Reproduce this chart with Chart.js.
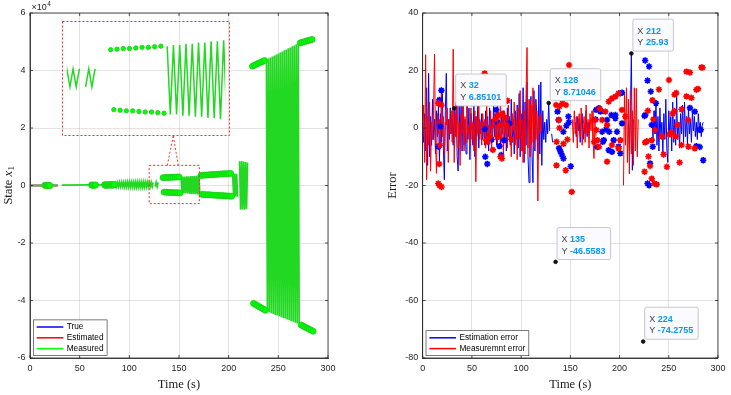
<!DOCTYPE html>
<html>
<head>
<meta charset="utf-8">
<title>State and error</title>
<script src="https://cdn.jsdelivr.net/npm/chart.js@4.4.1/dist/chart.umd.min.js"></script>
<style>
  body { margin: 0; background: #fff; }
  #page { position: relative; width: 731px; height: 395px; overflow: hidden; }
  canvas { position: absolute; }
  #stateChart { left: 0; top: 0; }
  #errorChart { left: 365px; top: 0; }
  #zoomChart { left: 62px; top: 21px; }
</style>
</head>
<body>
<div id="page">
  <canvas id="stateChart" width="365" height="395"></canvas>
  <canvas id="errorChart" width="366" height="395"></canvas>
  <canvas id="zoomChart" width="168" height="115"></canvas>
</div>
<script>
// ---- axis ticks ----
var timeTicks = [0, 50, 100, 150, 200, 250, 300];
var stateTicks = [-6, -4, -2, 0, 2, 4, 6];          // x 10^4
var errorTicks = [-80, -60, -40, -20, 0, 20, 40];

// ---- left plot: state x1, values in units of 10^4 ----
var trueT = [0, 28];
var trueX = [0, 0];
var estT = [0, 28];
var estX = [0, 0];

// measured, flat part near zero (null = gap in the line)
var flatT = [0, 28, 30, 32, 85];
var flatX = [0, 0.005, null, 0.01, 0.03];

// measured, drawn as line; one sample per second from the start time in the name
var zig86 = [0.10, -0.04, 0.10, -0.04, 0.11, -0.04, 0.11, -0.04, 0.11, -0.05,
    0.11, -0.05, 0.12, -0.05, 0.12, -0.05, 0.12, -0.05, 0.12, -0.06,
    0.12, -0.06, 0.12, -0.06, 0.12, -0.06, 0.12, -0.06, 0.12, -0.06,
    0.12, -0.05, 0.12, -0.05, 0.11, -0.04, 0.11, -0.04, 0.11];
var zig126 = [-0.04, 0.11, -0.04, 0.11];
var zig152 = [0.30, -0.27, 0.31, -0.27, 0.31, -0.28, 0.32, -0.28, 0.32, -0.29,
    0.33, -0.29, 0.33, -0.30, 0.34, -0.30, 0.34, -0.31, 0.35, -0.31];
var zig204 = [0.42, -0.38, 0.42, -0.38, 0.41, -0.39];
var zig211 = [0.84, -0.84, 0.85, -0.83, 0.83, -0.84, 0.82, -0.82, 0.80];
var zig238 = [4.38, -4.39, 4.42, -4.41, 4.45, -4.44, 4.49, -4.47, 4.52, -4.50,
    4.56, -4.52, 4.59, -4.55, 4.63, -4.58, 4.66, -4.61, 4.70, -4.63,
    4.73, -4.66, 4.77, -4.69, 4.80, -4.72, 4.84, -4.74, 4.87, -4.77,
    4.91, -4.80, 4.94, -4.83];

// measured, drawn as markers
var dot15 = [0.010, -0.008, 0.012, -0.006, 0.012, -0.006];
var dot62 = [0.02, 0.0, 0.02, 0.005, 0.02];
var dot75 = [0.03, 0.0, 0.03, 0.005, 0.035, 0.005, 0.035, 0.01, 0.035, 0.01, 0.035];
var dot134 = [0.27, -0.23, 0.275, -0.235, 0.28, -0.24, 0.28, -0.24, 0.285, -0.245,
    0.29, -0.25, 0.29, -0.25, 0.295, -0.255, 0.30, -0.26];
var dot172 = [0.35, -0.31, 0.355, -0.315, 0.36, -0.32, 0.365, -0.32, 0.37, -0.325,
    0.375, -0.33, 0.38, -0.335, 0.385, -0.34, 0.39, -0.345, 0.395, -0.35,
    0.40, -0.35, 0.405, -0.355, 0.41, -0.36, 0.41, -0.365, 0.415, -0.37,
    0.42, -0.37];
var dot224 = [4.15, -4.10, 4.18, -4.14, 4.22, -4.18, 4.25, -4.22, 4.28, -4.26,
    4.31, -4.30, 4.35, -4.34];
var dot272 = [4.96, -4.85, 4.98, -4.89, 5.00, -4.93, 5.02, -4.96, 5.04, -5.00,
    5.06, -5.03, 5.08, -5.07];

// zoom window: time span, y span of the small box, y span of the inset
var zoomT = [120, 170.5];
var zoomBoxX = [-0.63, 0.70];
var insetX = [-0.41, 0.47];

// ---- right plot: errors ----
var estRun0 = [2, -5, 5, -8, 14, -13, 19, -10, 4, -6,
    10, -4, 3, -9, 6, -3, 8, -12, 5, -5,
    12, -7, -18, 6, 19, -8, 3, -4, 7, -2,
    4, -6, 6.85101, -3, 9, -10, -15, 8, -5, 10,
    -8, 12, -6, 3, -9, 11, -4, 7, -11, 5,
    2, -6, 9, -10, 4, -3, 8, -7, 3, -2,
    5, -4, 2, -6, 6, -3, 4, -8, 7, -2,
    3, -5, 8, -3, 5, -6, 9, -4, 2, -7,
    4, -2, 6, -5, 3, -8, 7, -3, 4, -6,
    10, -5, 3, -9, 6, -4, 8, -7, 12, -10,
    5, -8, 14, -12, 9, -6, 16, -10, -19, 7,
    11, -9, -19, 13, -8, 10, 4, -11, 15, -9,
    16, -13, 6, -4, 2, -5, 3, -2, 8.71046, -1];
var estRun131 = [-2, -5];
var estRun155 = [2, -3, 4, -1, 3, -5, 2, 5, -4, 1, -2, 6, -3, 2, -1, 3];
var estRun209 = [2, -8, 5, 25.93, -14.7, 3];
var estRun233 = [3, -4, 6, -2, 8, -6, 4, -8, 7, -3,
    2, -9, 5, -4, 10, -7, -12, 6, -3, 4,
    -8, 9, -5, 3, -6, 11, -4, 2, -7, 5,
    -2, 8, -5, 9, -3, 4, -6, 7, -2, 3,
    -5, 6, -1, 4, -3, 2, -4, 5, 0, 2,
    -3, 1, 2];

var msrRun0 = [-3, 8, -12, 25.5, -18, 4, -6, 9, -15, 2,
    -4, 6, 25.7, -3, -15.8, 5, -2, 3, -6, 14,
    -3, 4, -9, 2, 1, 7, -12, 3, -2, 6,
    -5, 27.4, -12, 5, -3, 9, -7, 2, -13, 5,
    -2, 15, -8, 4, -5, 9, -2, 1, -6, 7,
    -4, 2, -8, 6, -18.7, 4, -2, 8, -4, 2,
    -6, 5, -1, 3, -7, 9, -3, 1, -5, 6,
    -8, 3, 0, 5, -4, 7, -6, 2, -3, 10,
    -5, 3, -9, 6, -2, 4, -7, 8, -4, 2,
    -10, 5, -1, 9, -6, 3, -11, 7, -4, 13,
    -8, 3, -12, 6, -9, 12, 28, -7, 10, -10,
    8, -5, 14, -7, 9, -4, 6, -25.4, 4, -2,
    5, -1];
var msrRun152 = [3, -5, 6, -2, 4, -7, 2, 5, -3, 7, -6, 1, 4, -5, 8, -2, 3, -7, 5, -1,
    6, -4, -10.6, 2, -3];
var msrRun204 = [-20, 12, -6, 14, -12, 10, -16, 13, -9, 6, -13, 14, -8, 13.8, -10, 3];

var estStarT = [16, 17, 18, 19, 63, 63.6, 65.6, 70, 72, 74.6, 76, 78, 79.7, 83, 88,
    137, 138, 138.5, 140, 141.5, 143, 142.9, 146, 148, 148.5, 150.4,
    175.6, 176.2, 177.3, 179, 180.6, 182.3, 183, 184, 186.3, 187.3, 189, 189.5, 191.7,
    192.3, 194, 195.7, 195.8, 197.4, 199, 200.8, 200.8, 202.5, 202.5,
    225.3, 226, 226.2, 228.4, 228.4, 230, 230, 231, 231.7, 232.7, 233.7, 237,
    271.5, 276.4, 278, 281, 281.5, 282.6, 285];
var estStarY = [-6.5, 9.8, 0.5, 13.1, -0.4, -10, -12.5, -4, 9, 6.3, 2, -6.3, -9.4, -4.2, 1.6,
    5.7, 2.8, -7, -8.2, -9.4, -10.6, -1.3, 0.8, 4, 2, -13.3,
    3, 6.3, -6.6, 6.9, 5.7, -1.3, -4.8, -4.2, -0.5, 2.8, -7.7, -1.3, 4.5,
    -8.3, -4.2, 3.4, 4.5, -1.3, -6.5, -8.8, 12.1, 1.6, 12.3,
    4.2, 23.5, 4.5, 16.5, -19.3, 21.4, -19.9, -12.3, 12.7, 1.1, -6.5, 8.6,
    7, 5.7, -6.3, -0.6, -6.6, -0.6, -11.2];

var msrStarT = [15.8, 17, 19.1, 16.8, 17.5, 15.8, 19.1,
    62.9, 64.6, 66, 68, 71.3, 74, 76.3, 77, 78, 79, 80.5, 81, 83, 85, 86, 90,
    135.5, 136, 135.9, 138.4, 138.9, 139, 141.9, 143, 145.3, 145.5, 147, 148.7, 151.4,
    174, 174.9, 176.5, 177.4, 179, 179.9, 182.3, 185.6, 187.3, 187.3, 189, 192.3, 192.3,
    195.7, 199, 199, 200.8, 202.5, 205.8,
    225.4, 226, 227.7, 228.7, 229.4, 231, 232.7, 232.7, 233.4, 234.4, 235.3, 236, 237.7,
    240, 243, 244.7, 248, 250.2, 250.9, 252.6, 254, 255.7, 255.9, 257, 257.6, 259, 261,
    263, 263, 268, 268, 269.7, 270, 271.5, 273, 276.4, 278, 279.7, 283.2, 284.2];
var msrStarY = [-19.3, -19.9, -20.5, -12.5, -6, 8.6, 8,
    19, -4.2, -4.8, -3.1, -7.6, 3, -3, 4.5, 1, -10, -10.6, 5, 3.8, 1, 9.5, -4,
    8, -4.8, -13, 2.8, 7.5, 0, 8.6, -5.5, -14.7, 8, -4, 21.9, -22.2,
    -4.8, 2.8, -0.7, -4.2, -6.5, 6.7, 2.8, 5.7, 1, -11.7, 9.2, 10.3, -5.9,
    10.9, 12.1, -7.1, -4.2, 6.3, 4,
    -15.2, -5, -4.6, 6, -9.9, -13.2, -4.2, -17.6, 9.7, 3, -19.3, -0.7, -19.6,
    13.4, -3, -9.2, -13.5, 16.7, -2.2, -1.6, 5, 5.9, 11.6, -3, 12.2, 1.1, -12,
    6.5, -5.9, 11, 19.6, 2.8, -6.5, 19.3, 10.5, -7.1, 13.3, 13.6, 21.1, 21];

// data tips
var tipT = [32, 128, 212, 135, 224];
var tipY = [6.85101, 8.71046, 25.93, -46.5583, -74.2755];

// ---- styling ----
var SANS = "'Liberation Sans', Arial, sans-serif";
var SERIF = "'Liberation Serif', 'Times New Roman', serif";
var AXIS_GREY = '#262626';
var GRID_GREY = 'rgba(38,38,38,0.13)';

function run(start, values) {
    return values.map(function (v, i) { return { x: start + i, y: v }; });
}
function pairs(ts, vs) {
    return ts.map(function (t, i) { return { x: t, y: vs[i] }; });
}
// runs joined into one line with a gap between them
function lineRuns(list) {
    var pts = [];
    list.forEach(function (r, k) {
        if (k > 0) pts.push({ x: r[0] - 0.5, y: null });
        pts = pts.concat(run(r[0], r[1]));
    });
    return pts;
}
function dotRuns(list) {
    var pts = [];
    list.forEach(function (r) { pts = pts.concat(run(r[0], r[1])); });
    return pts;
}

var measLinePts = pairs(flatT, flatX).concat(lineRuns([
    [86, zig86], [126, zig126], [152, zig152], [204, zig204], [211, zig211], [238, zig238]
]));
var measDotPts = dotRuns([
    [15, dot15], [62, dot62], [75, dot75], [134, dot134], [172, dot172], [224, dot224], [272, dot272]
]);

function stateDatasets(markerRadius, lineWidth) {
    return [
        { label: 'True', data: pairs(trueT, trueX), showLine: true, borderColor: '#0000ff',
          borderWidth: 1.5, pointRadius: 0, order: 4 },
        { label: 'Estimated', data: pairs(estT, estX), showLine: true, borderColor: '#ff0000',
          borderWidth: 1.5, pointRadius: 0, order: 3 },
        { label: 'Measured', data: measLinePts, showLine: true, borderColor: '#22d822',
          legendColor: '#00ff00', borderWidth: lineWidth, pointRadius: 0, order: 2 },
        { label: 'Measured', data: measDotPts, showLine: false, pointRadius: markerRadius,
          pointBackgroundColor: '#00ff00', pointBorderColor: '#1ec81e', pointBorderWidth: 0.8, order: 1 }
    ];
}

function timeAxis() {
    return {
        type: 'linear', min: 0, max: 300,
        afterBuildTicks: function (ax) { ax.ticks = timeTicks.map(function (v) { return { value: v }; }); },
        afterFit: function (ax) { ax.height = 37; },
        ticks: { autoSkip: false, maxRotation: 0, padding: 5.5, color: AXIS_GREY,
                 font: { family: SANS, size: 9 }, callback: function (v) { return String(v); } },
        grid: { color: GRID_GREY, drawTicks: false },
        border: { color: AXIS_GREY, width: 0.8 },
        title: { display: true, text: 'Time (s)', color: '#1a1a1a',
                 font: { family: SERIF, size: 12.5 }, padding: { top: 0, bottom: 2.5 } }
    };
}
function valueAxis(min, max, ticks, width, title) {
    return {
        type: 'linear', min: min, max: max,
        afterBuildTicks: function (ax) { ax.ticks = ticks.map(function (v) { return { value: v }; }); },
        afterFit: function (ax) { ax.width = width; },
        ticks: { autoSkip: false, padding: 4.5, color: AXIS_GREY,
                 font: { family: SANS, size: 9 }, callback: function (v) { return String(v); } },
        grid: { color: GRID_GREY, drawTicks: false },
        border: { color: AXIS_GREY, width: 0.8 },
        title: title ? { display: true, text: title, color: '#1a1a1a',
                 font: { family: SERIF, size: 12.5 }, padding: { top: 20.5, bottom: 0 } } : { display: false }
    };
}

// box round the axes with small inward ticks
var axesBox = {
    id: 'axesBox',
    afterDatasetsDraw: function (chart) {
        var ctx = chart.ctx, a = chart.chartArea, sx = chart.scales.x, sy = chart.scales.y;
        ctx.save();
        ctx.strokeStyle = AXIS_GREY;
        ctx.lineWidth = 0.8;
        ctx.strokeRect(a.left, a.top, a.right - a.left, a.bottom - a.top);
        ctx.beginPath();
        sx.ticks.forEach(function (t) {
            var p = sx.getPixelForValue(t.value);
            ctx.moveTo(p, a.bottom); ctx.lineTo(p, a.bottom - 3);
            ctx.moveTo(p, a.top); ctx.lineTo(p, a.top + 3);
        });
        sy.ticks.forEach(function (t) {
            var p = sy.getPixelForValue(t.value);
            ctx.moveTo(a.left, p); ctx.lineTo(a.left + 3, p);
            ctx.moveTo(a.right, p); ctx.lineTo(a.right - 3, p);
        });
        ctx.stroke();
        ctx.restore();
    }
};

// matlab style legend in the lower left corner of the axes
var boxLegend = {
    id: 'boxLegend',
    afterDraw: function (chart, args, opts) {
        if (!opts.items) return;
        var ctx = chart.ctx, a = chart.chartArea, ds = chart.data.datasets;
        var rowH = 10.8;
        ctx.save();
        ctx.font = '8.3px ' + SANS;
        var textW = 0;
        opts.items.forEach(function (i) { textW = Math.max(textW, ctx.measureText(ds[i].label).width); });
        var w = 33.4 + textW + 3.5, h = opts.items.length * rowH + 3.4;
        var x = a.left + 3.3, y = a.bottom - 2.3 - h;
        ctx.fillStyle = '#fff';
        ctx.fillRect(x, y, w, h);
        ctx.strokeStyle = AXIS_GREY;
        ctx.lineWidth = 0.6;
        ctx.strokeRect(x, y, w, h);
        opts.items.forEach(function (i, k) {
            var cy = y + 1.7 + rowH * (k + 0.5);
            ctx.strokeStyle = ds[i].legendColor || ds[i].borderColor;
            ctx.lineWidth = 1.5;
            ctx.beginPath(); ctx.moveTo(x + 3.4, cy); ctx.lineTo(x + 30, cy); ctx.stroke();
            ctx.fillStyle = '#000';
            ctx.textBaseline = 'middle';
            ctx.fillText(ds[i].label, x + 33.4, cy);
        });
        ctx.restore();
    }
};

// y label with math and the x10^4 exponent
var stateLabels = {
    id: 'stateLabels',
    afterDraw: function (chart) {
        var ctx = chart.ctx, a = chart.chartArea;
        ctx.save();
        ctx.fillStyle = AXIS_GREY;
        ctx.textBaseline = 'alphabetic';
        ctx.font = '9px ' + SANS;
        ctx.fillText('\u00d710', a.left + 1.5, a.top - 3);
        var w = ctx.measureText('\u00d710').width;
        ctx.font = '6.5px ' + SANS;
        ctx.fillText('4', a.left + 2 + w, a.top - 7);

        ctx.translate(9, (a.top + a.bottom) / 2);
        ctx.rotate(-Math.PI / 2);
        ctx.textBaseline = 'middle';
        ctx.fillStyle = '#1a1a1a';
        var f1 = '12.5px ' + SERIF, f2 = 'italic 12.5px ' + SERIF, f3 = '9px ' + SERIF;
        ctx.font = f1; var w1 = ctx.measureText('State ').width;
        ctx.font = f2; var w2 = ctx.measureText('x').width;
        ctx.font = f3; var w3 = ctx.measureText('1').width;
        var x0 = -(w1 + w2 + w3) / 2;
        ctx.font = f1; ctx.fillText('State ', x0, 0);
        ctx.font = f2; ctx.fillText('x', x0 + w1, 0);
        ctx.font = f3; ctx.fillText('1', x0 + w1 + w2 + 0.5, 3);
        ctx.restore();
    }
};

// small dashed box around the zoomed part and the lines up to the inset
var zoomMarks = {
    id: 'zoomMarks',
    afterDatasetsDraw: function (chart) {
        var ctx = chart.ctx, sx = chart.scales.x, sy = chart.scales.y;
        var l = sx.getPixelForValue(zoomT[0]), r = sx.getPixelForValue(zoomT[1]);
        var tp = sy.getPixelForValue(zoomBoxX[1]), bt = sy.getPixelForValue(zoomBoxX[0]);
        var cx = (l + r) / 2, insetBottom = 136;
        ctx.save();
        ctx.strokeStyle = '#ff2a2a';
        ctx.lineWidth = 1;
        ctx.setLineDash([2, 2]);
        ctx.strokeRect(l, tp, r - l, bt - tp);
        ctx.beginPath();
        ctx.moveTo(cx - 1, insetBottom); ctx.lineTo(cx - 7, tp);
        ctx.moveTo(cx - 1, insetBottom); ctx.lineTo(cx + 4, tp);
        ctx.stroke();
        ctx.restore();
    }
};

// dashed red frame of the inset
var insetFrame = {
    id: 'insetFrame',
    afterDraw: function (chart) {
        var ctx = chart.ctx;
        ctx.save();
        ctx.strokeStyle = '#ff2a2a';
        ctx.lineWidth = 1;
        ctx.setLineDash([2, 2]);
        ctx.strokeRect(0.5, 0.5, chart.width - 1, chart.height - 1);
        ctx.restore();
    }
};

// datatip boxes
var dataTips = {
    id: 'dataTips',
    afterDraw: function (chart, args, opts) {
        var ctx = chart.ctx, sx = chart.scales.x, sy = chart.scales.y;
        ctx.save();
        tipT.forEach(function (t, i) {
            var v = tipY[i];
            var px = sx.getPixelForValue(t), py = sy.getPixelForValue(v);
            var xs = String(t), ys = String(Number(v.toPrecision(6)));
            ctx.font = '9px ' + SANS;
            var lw = ctx.measureText('Y ').width;
            ctx.font = 'bold 9px ' + SANS;
            var vw = Math.max(ctx.measureText(xs).width, ctx.measureText(ys).width);
            var bw = 4.5 + lw + vw + 5, bh = 32;
            var bx = px + 1.5, by = py - 2.3 - bh;
            ctx.fillStyle = 'rgba(250,250,255,0.97)';
            ctx.strokeStyle = '#b9b9c4';
            ctx.lineWidth = 0.8;
            ctx.beginPath();
            ctx.roundRect(bx, by, bw, bh, 2);
            ctx.fill();
            ctx.stroke();
            ctx.textBaseline = 'middle';
            ctx.font = '9px ' + SANS;
            ctx.fillStyle = '#404040';
            ctx.fillText('X', bx + 4.5, by + 12);
            ctx.fillText('Y', bx + 4.5, by + 23.7);
            ctx.font = 'bold 9px ' + SANS;
            ctx.fillStyle = '#0a96f5';
            ctx.fillText(xs, bx + 4.5 + lw, by + 12);
            ctx.fillText(ys, bx + 4.5 + lw, by + 23.7);
        });
        ctx.restore();
    }
};

// ---- left chart ----
new Chart(document.getElementById('stateChart'), {
    type: 'scatter',
    data: { datasets: stateDatasets(3, 1.7) },
    options: {
        responsive: false, animation: false, devicePixelRatio: 1, events: [],
        layout: { padding: { left: 0, right: 37, top: 13, bottom: 0 } },
        plugins: { legend: { display: false }, tooltip: { enabled: false },
                   boxLegend: { items: [0, 1, 2] } },
        scales: { x: timeAxis(), y: valueAxis(-6, 6, stateTicks, 30, null) }
    },
    plugins: [axesBox, zoomMarks, boxLegend, stateLabels]
});

// ---- inset ----
new Chart(document.getElementById('zoomChart'), {
    type: 'scatter',
    data: { datasets: stateDatasets(2.2, 1.5) },
    options: {
        responsive: false, animation: false, devicePixelRatio: 1, events: [],
        layout: { padding: 0 },
        plugins: { legend: { display: false }, tooltip: { enabled: false } },
        scales: {
            x: { type: 'linear', min: zoomT[0], max: zoomT[1], display: false },
            y: { type: 'linear', min: insetX[0], max: insetX[1], display: false }
        }
    },
    plugins: [insetFrame]
});

// ---- right chart ----
new Chart(document.getElementById('errorChart'), {
    type: 'scatter',
    data: {
        datasets: [
            { label: 'Estimation error',
              data: lineRuns([[0, estRun0], [131, estRun131], [155, estRun155], [209, estRun209], [233, estRun233]]),
              showLine: true, borderColor: '#0000ff', borderWidth: 1, pointRadius: 0, order: 4 },
            { label: 'Measuremnt error',
              data: lineRuns([[0, msrRun0], [152, msrRun152], [204, msrRun204]]),
              showLine: true, borderColor: '#ff0000', borderWidth: 1, pointRadius: 0, order: 3 },
            { label: 'Estimation error', data: pairs(estStarT, estStarY), pointStyle: 'star',
              pointRadius: 3.2, pointBorderWidth: 1.6, pointBorderColor: '#0000ff', order: 2 },
            { label: 'Measuremnt error', data: pairs(msrStarT, msrStarY), pointStyle: 'star',
              pointRadius: 3.2, pointBorderWidth: 1.6, pointBorderColor: '#ff0000', order: 1 },
            { label: 'tips', data: pairs(tipT, tipY), pointRadius: 1.8,
              pointBackgroundColor: '#111', pointBorderColor: '#111', order: 0 }
        ]
    },
    options: {
        responsive: false, animation: false, devicePixelRatio: 1, events: [],
        layout: { padding: { left: 0, right: 11, top: 13, bottom: 0 } },
        plugins: { legend: { display: false }, tooltip: { enabled: false },
                   boxLegend: { items: [0, 1] } },
        scales: { x: timeAxis(), y: valueAxis(-80, 40, errorTicks, 57.7, 'Error') }
    },
    plugins: [axesBox, boxLegend, dataTips]
});
</script>
</body>
</html>
